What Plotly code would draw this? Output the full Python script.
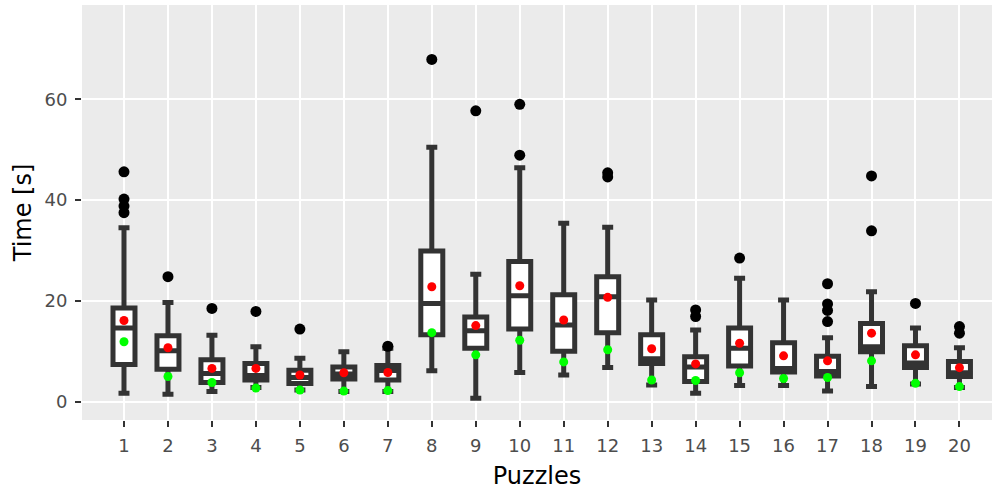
import plotly.graph_objects as go

puzzles = list(range(1, 21))
q1 = [7.4, 6.45, 3.8, 4.3, 3.6, 4.5, 4.3, 13.3, 10.6, 14.4, 10.0, 13.7, 7.6, 4.0, 7.1, 5.9, 5.1, 9.9, 6.8, 5.0]
median = [14.6, 10.1, 5.6, 5.2, 4.8, 5.5, 6.2, 19.5, 14.1, 21.0, 15.2, 20.8, 8.5, 6.9, 10.6, 6.6, 6.0, 10.9, 7.7, 5.75]
q3 = [18.6, 13.1, 8.3, 7.6, 6.25, 6.9, 7.2, 29.9, 16.8, 27.8, 21.2, 24.8, 13.3, 8.9, 14.6, 11.7, 9.0, 15.5, 11.1, 8.0]
upper = [34.5, 19.7, 13.2, 10.9, 8.6, 9.9, 10.6, 50.5, 25.3, 46.4, 35.4, 34.6, 20.2, 14.2, 24.5, 20.2, 12.7, 21.8, 14.6, 10.7]
lower = [1.7, 1.5, 2.0, 2.8, 2.3, 2.0, 2.0, 6.15, 0.7, 5.8, 5.3, 6.8, 3.3, 1.7, 3.2, 3.2, 2.1, 3.0, 3.5, 2.8]
means = [16.1, 10.7, 6.6, 6.6, 5.3, 5.75, 5.8, 22.8, 15.1, 23.0, 16.2, 20.7, 10.5, 7.5, 11.6, 9.1, 8.1, 13.6, 9.3, 6.75]
green_vals = [11.9, 5.0, 3.8, 2.7, 2.3, 2.1, 2.2, 13.7, 9.3, 12.2, 7.9, 10.3, 4.3, 4.2, 5.75, 4.6, 4.8, 8.1, 3.65, 3.0]

outlier_puzzle = [1, 1, 1, 1, 2, 3, 4, 5, 7, 8, 9, 10, 10, 12, 12, 14, 14, 15, 17, 17, 17, 17, 18, 18, 19, 20, 20]
outlier_time = [45.6, 40.2, 38.8, 37.5, 24.8, 18.5, 17.9, 14.4, 11.0, 67.9, 57.7, 59.0, 48.9, 45.4, 44.6,
                18.2, 16.9, 28.5, 23.4, 19.4, 18.1, 15.9, 44.8, 33.9, 19.5, 14.9, 13.6]

tick_labels = [str(p) for p in puzzles]

fig = go.Figure()
fig.add_trace(go.Box(
    x=puzzles, q1=q1, median=median, q3=q3, lowerfence=lower, upperfence=upper,
    width=0.5, whiskerwidth=0.5, boxpoints=False,
    line=dict(color="#333333", width=5), fillcolor="white",
    showlegend=False, hoverinfo="skip",
))
fig.add_trace(go.Scatter(
    x=outlier_puzzle, y=outlier_time, mode="markers",
    marker=dict(color="black", size=11, line=dict(width=0)), showlegend=False,
))
fig.add_trace(go.Scatter(
    x=puzzles, y=green_vals, mode="markers",
    marker=dict(color="#00FF00", size=9, line=dict(width=0)), showlegend=False,
))
fig.add_trace(go.Scatter(
    x=puzzles, y=means, mode="markers",
    marker=dict(color="#FF0000", size=9, line=dict(width=0)), showlegend=False,
))

fig.update_layout(
    width=992, height=491,
    margin=dict(l=82, r=0, t=5, b=71),
    paper_bgcolor="white", plot_bgcolor="#EBEBEB",
    font=dict(family="DejaVu Sans", color="#4D4D4D"),
    xaxis=dict(
        range=[0.045, 20.74], tickmode="array", tickvals=puzzles, ticktext=tick_labels,
        showgrid=True, gridcolor="white", gridwidth=2, zeroline=False,
        ticks="outside", ticklen=6, tickwidth=1.5, tickcolor="#333333",
        tickfont=dict(size=18, color="#4D4D4D"), ticklabelstandoff=3,
        title=dict(text="Puzzles", font=dict(size=24, color="black"), standoff=12),
        showline=False, automargin=False,
    ),
    yaxis=dict(
        range=[-3.63, 78.7], tickvals=[0, 20, 40, 60],
        showgrid=True, gridcolor="white", gridwidth=2, zeroline=False,
        ticks="outside", ticklen=6, tickwidth=1.5, tickcolor="#333333",
        tickfont=dict(size=18, color="#4D4D4D"), ticklabelstandoff=4,
        title=dict(text="Time [s]", font=dict(size=24, color="black"), standoff=6),
        showline=False, automargin=False,
    ),
)

fig.write_html("out.html", config={"displayModeBar": False},
               post_script="document.body.style.margin='0';document.body.style.overflow='hidden';")
